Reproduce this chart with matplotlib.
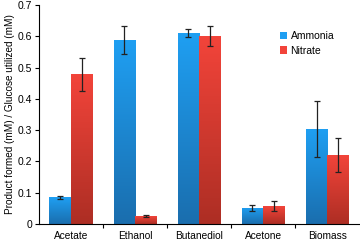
import numpy as np
import matplotlib
matplotlib.use("Agg")
import matplotlib.pyplot as plt
from matplotlib.colors import LinearSegmentedColormap

plt.rcParams['font.family'] = ['Liberation Sans', 'DejaVu Sans']

categories = ["Acetate", "Ethanol", "Butanediol", "Acetone", "Biomass"]
ammonia = [0.085, 0.588, 0.610, 0.052, 0.303]
ammonia_err = [0.004, 0.045, 0.013, 0.010, 0.090]
nitrate = [0.478, 0.025, 0.600, 0.057, 0.220]
nitrate_err = [0.053, 0.003, 0.032, 0.017, 0.055]

fig = plt.figure(figsize=(3.6, 2.4), dpi=100)
ax = fig.add_axes([0.108, 0.067, 0.89, 0.912])

x = np.arange(len(categories))
w = 0.335

blue_cm = LinearSegmentedColormap.from_list("b", ["#1a6eae", "#1f9ff2"])
red_cm = LinearSegmentedColormap.from_list("r", ["#ad2e24", "#f2443a"])

def gradient_bars(bars, cmap):
    grad = np.linspace(0, 1, 100).reshape(-1, 1)
    for b in bars:
        x0, y0 = b.get_xy()
        im = ax.imshow(grad, cmap=cmap, aspect='auto', origin='lower',
                       extent=[x0, x0 + b.get_width(), y0, y0 + b.get_height()],
                       zorder=b.get_zorder())
        im.set_clip_path(b)

b1 = ax.bar(x - w / 2, ammonia, w, color="#1f9ff2", label="Ammonia", zorder=2)
b2 = ax.bar(x + w / 2, nitrate, w, color="#f2443a", label="Nitrate", zorder=2)
gradient_bars(b1, blue_cm)
gradient_bars(b2, red_cm)

ax.errorbar(x - w / 2, ammonia, yerr=ammonia_err, fmt='none', ecolor='#222222',
            elinewidth=0.9, capsize=2.5, capthick=0.9, zorder=4)
ax.errorbar(x + w / 2, nitrate, yerr=nitrate_err, fmt='none', ecolor='#222222',
            elinewidth=0.9, capsize=2.5, capthick=0.9, zorder=4)

ax.set_xlim(-0.5, 4.5)
ax.set_ylim(0, 0.7)
ax.set_yticks(np.arange(0, 0.71, 0.1))
ax.set_yticklabels(["0", "0.1", "0.2", "0.3", "0.4", "0.5", "0.6", "0.7"], fontsize=7.5)
ax.set_xticks(x)
ax.set_xticklabels(categories, fontsize=7.3)
ax.set_xticks(np.arange(0.5, 4.5, 1), minor=True)
ax.tick_params(axis='x', which='major', length=0, pad=5)
ax.tick_params(axis='x', which='minor', length=3, width=0.8)
ax.tick_params(axis='y', length=3, width=0.8, pad=2)
ax.spines['top'].set_visible(False)
ax.spines['right'].set_visible(False)
ax.spines['left'].set_linewidth(0.8)
ax.spines['bottom'].set_linewidth(0.8)
ax.set_ylabel("Product formed (mM) / Glucose utilized (mM)", fontsize=7.2, labelpad=2)

ax.legend(loc='upper left', bbox_to_anchor=(0.74, 0.9), frameon=False, fontsize=7.5,
          handlelength=0.7, handleheight=0.7, handletextpad=0.3, labelspacing=0.45,
          borderaxespad=0)

fig.savefig("out.png", dpi=100)
